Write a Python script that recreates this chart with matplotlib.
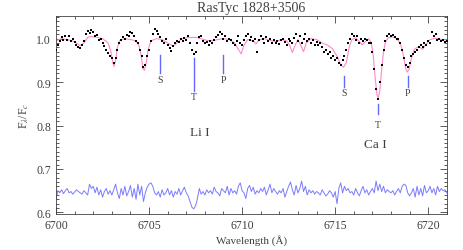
import matplotlib
matplotlib.use('Agg')
import matplotlib.pyplot as plt
import numpy as np
from matplotlib.ticker import MultipleLocator

# observed spectrum (dots), sampled every 0.1 A from 6700.0
obs_start = 6700.0
obs_step = 0.1
obs_flux = [
    0.975, 0.985, 0.995, 1.003, 0.997, 1.005, 0.998, 1.006, 0.995, 1.000,
    0.993, 0.985, 0.980, 0.978, 0.985, 0.995, 1.010, 1.018, 1.012, 1.020,
    1.015, 1.005, 1.008, 0.998, 1.000, 0.990, 0.982, 0.975, 0.968, 0.960,
    0.955, 0.945, 0.955, 0.975, 0.990, 0.998, 1.003, 1.000, 1.008, 1.005,
    1.015, 1.012, 1.005, 0.995, 0.990, 0.975, 0.960, 0.935, 0.940, 0.960,
    0.975, 0.995, 1.010, 1.022, 1.018, 1.010, 1.003, 0.995, 0.990, 1.000,
    0.985, 0.978, 0.972, 0.983, 0.990, 0.995, 0.992, 1.000, 0.995, 1.002,
    0.998, 1.005, 0.990, 0.975, 0.965, 0.970, 0.990, 1.003, 1.005, 0.995,
    0.990, 0.993, 0.985, 0.995, 0.990, 0.998, 1.003, 1.008, 1.015, 1.010,
    1.000, 1.005, 0.995, 1.000, 0.997, 0.990, 0.985, 0.995, 1.005, 0.990,
    0.985, 0.998, 1.005, 1.010, 0.998, 1.003, 0.995, 1.000, 0.970, 0.998,
    1.005, 1.000, 0.990, 1.003, 0.995, 1.000, 0.990, 0.997, 0.990, 0.995,
    0.988, 0.998, 1.000, 0.993, 0.985, 1.000, 0.995, 0.990, 1.002, 1.010,
    0.995, 1.005, 0.990, 1.000, 1.010, 0.995, 1.000, 0.990, 0.997, 0.985,
    0.992, 0.985, 0.990, 0.980, 0.970, 0.975, 0.965, 0.970, 0.955, 0.960,
    0.950, 0.955, 0.945, 0.940, 0.950, 0.960, 0.975, 0.990, 1.000, 1.010,
    1.005, 0.998, 1.005, 0.990, 1.000, 0.995, 1.000, 0.998, 0.990, 0.990,
    0.970, 0.930, 0.885, 0.860, 0.900, 0.940, 0.975, 0.995, 1.005, 1.010,
    1.005, 1.008, 1.003, 1.000, 1.000, 0.990, 0.975, 0.955, 0.940, 0.935,
    0.945, 0.960, 0.965, 0.970, 0.975, 0.980, 0.985, 0.980, 0.990, 0.985,
    0.995, 0.990, 1.015, 1.005, 1.010, 0.998, 1.000, 0.995, 0.997, 0.993,
    0.995,
]

# synthetic (pink) spectrum
model_wave = [
    6700.0, 6700.3, 6700.6, 6700.9, 6701.1, 6701.3, 6701.5, 6701.7, 6701.9, 6702.2,
    6702.5, 6702.8, 6702.95, 6703.05, 6703.12, 6703.2, 6703.3, 6703.45, 6703.7, 6704.0,
    6704.3, 6704.45, 6704.58, 6704.68, 6704.75, 6704.85, 6704.95, 6705.1, 6705.4, 6705.7,
    6706.0, 6706.2, 6706.3, 6706.45, 6706.7, 6707.0, 6707.5, 6707.8, 6708.1, 6708.4,
    6708.7, 6709.0, 6709.3, 6709.6, 6709.8, 6709.95, 6710.1, 6710.3, 6710.6, 6710.75,
    6710.9, 6711.2, 6711.5, 6711.8, 6712.1, 6712.4, 6712.55, 6712.7, 6712.85, 6713.0,
    6713.15, 6713.3, 6713.45, 6713.7, 6714.0, 6714.3, 6714.6, 6714.85, 6715.1, 6715.3,
    6715.45, 6715.6, 6715.75, 6715.9, 6716.1, 6716.3, 6716.45, 6716.6, 6716.8, 6716.95,
    6717.05, 6717.15, 6717.25, 6717.32, 6717.4, 6717.5, 6717.6, 6717.7, 6717.85, 6718.1,
    6718.3, 6718.5, 6718.65, 6718.8, 6718.88, 6718.98, 6719.1, 6719.25, 6719.4, 6719.55,
    6719.7, 6719.85, 6720.1, 6720.4, 6720.7, 6721.0,
]
model_flux = [
    0.995, 1.000, 0.998, 0.995, 0.990, 0.984, 0.990, 1.003, 1.005, 1.003,
    1.000, 0.990, 0.970, 0.945, 0.936, 0.950, 0.980, 0.997, 1.000, 0.998,
    0.995, 0.985, 0.960, 0.930, 0.927, 0.945, 0.975, 0.995, 1.000, 0.998,
    0.990, 0.985, 0.983, 0.988, 0.998, 1.002, 1.003, 1.000, 0.996, 0.995,
    0.998, 1.000, 0.998, 0.990, 0.975, 0.965, 0.985, 0.998, 0.995, 0.988,
    0.997, 1.000, 0.996, 0.993, 0.998, 0.995, 0.985, 0.968, 0.985, 0.998,
    0.985, 0.970, 0.990, 1.000, 0.998, 0.990, 0.985, 0.977, 0.960, 0.940,
    0.934, 0.945, 0.980, 0.998, 1.002, 0.993, 0.986, 0.992, 1.000, 0.990,
    0.960, 0.910, 0.870, 0.864, 0.880, 0.930, 0.970, 0.992, 1.002, 1.004,
    1.000, 0.990, 0.965, 0.930, 0.923, 0.930, 0.955, 0.975, 0.980, 0.980,
    0.975, 0.985, 0.998, 1.001, 0.998, 0.997,
]

# difference / offset spectrum (blue), sampled every 0.1 A
diff_flux = [
    0.630, 0.650, 0.645, 0.652, 0.643, 0.650, 0.655, 0.645, 0.648, 0.642,
    0.647, 0.652, 0.648, 0.645, 0.642, 0.650, 0.645, 0.640, 0.665, 0.655,
    0.660, 0.645, 0.658, 0.640, 0.652, 0.635, 0.648, 0.655, 0.642, 0.650,
    0.640, 0.652, 0.665, 0.645, 0.632, 0.655, 0.640, 0.660, 0.638, 0.648,
    0.662, 0.635, 0.655, 0.630, 0.665, 0.640, 0.660, 0.625, 0.645, 0.658,
    0.665, 0.668, 0.660, 0.645, 0.640, 0.648, 0.635, 0.652, 0.640, 0.645,
    0.655, 0.640, 0.650, 0.635, 0.648, 0.642, 0.655, 0.640, 0.650, 0.658,
    0.645, 0.638, 0.625, 0.612, 0.608, 0.615, 0.632, 0.655, 0.642, 0.648,
    0.640, 0.652, 0.645, 0.650, 0.642, 0.658, 0.648, 0.645, 0.638, 0.655,
    0.650, 0.645, 0.660, 0.640, 0.655, 0.645, 0.650, 0.642, 0.660, 0.668,
    0.650, 0.645, 0.632, 0.655, 0.662, 0.648, 0.658, 0.642, 0.650, 0.645,
    0.655, 0.648, 0.658, 0.640, 0.652, 0.665, 0.645, 0.655, 0.648, 0.642,
    0.650, 0.645, 0.655, 0.635, 0.648, 0.660, 0.670, 0.652, 0.640, 0.662,
    0.645, 0.655, 0.672, 0.648, 0.660, 0.640, 0.652, 0.645, 0.650, 0.642,
    0.648, 0.645, 0.640, 0.652, 0.645, 0.638, 0.642, 0.650, 0.645, 0.635,
    0.648, 0.620, 0.655, 0.668, 0.645, 0.660, 0.650, 0.655, 0.645, 0.648,
    0.640, 0.655, 0.645, 0.638, 0.650, 0.660, 0.645, 0.652, 0.640, 0.648,
    0.655, 0.645, 0.672, 0.650, 0.665, 0.648, 0.660, 0.645, 0.652, 0.648,
    0.645, 0.650, 0.640, 0.648, 0.655, 0.645, 0.660, 0.665, 0.662, 0.645,
    0.638, 0.645, 0.655, 0.635, 0.660, 0.640, 0.655, 0.638, 0.662, 0.645,
    0.650, 0.660, 0.645, 0.655, 0.640, 0.660, 0.648, 0.655, 0.650, 0.652,
    0.645,
]

# line identifications: wavelength, tick bottom, tick top, label, label y
li_wave = [6705.6, 6707.4, 6709.0]
li_lo = [0.922, 0.880, 0.922]
li_hi = [0.962, 0.955, 0.962]
li_lab = ['S', 'T', 'P']
li_laby = [0.905, 0.866, 0.905]

ca_wave = [6715.5, 6717.3, 6718.9]
ca_lo = [0.889, 0.826, 0.889]
ca_hi = [0.914, 0.849, 0.914]
ca_lab = ['S', 'T', 'P']
ca_laby = [0.875, 0.803, 0.875]

obs_wave = obs_start + obs_step * np.arange(len(obs_flux))
diff_wave = obs_start + obs_step * np.arange(len(diff_flux))

plt.rcParams['font.family'] = ['Liberation Serif', 'DejaVu Serif']
plt.rcParams['mathtext.fontset'] = 'stix'
grey = '#404040'

fig = plt.figure(figsize=(4.63, 2.51), dpi=100)
ax = fig.add_axes([0.121, 0.143, 0.844, 0.789])

ax.plot(model_wave, model_flux, color='#ff88cc', lw=0.8, zorder=2)
ax.plot(obs_wave, obs_flux, 's', color='black', ms=1.5, mew=0, zorder=3)
ax.plot(diff_wave, diff_flux, color='#7b7bff', lw=0.7, zorder=2)

for w, lo, hi, lab, ly in zip(li_wave + ca_wave, li_lo + ca_lo, li_hi + ca_hi,
                              li_lab + ca_lab, li_laby + ca_laby):
    ax.plot([w, w], [lo, hi], color='#6666ff', lw=1.0)
    ax.text(w, ly, lab, ha='center', va='center', fontsize=7, color=grey)

ax.text(6707.74, 0.785, 'Li I', ha='center', va='center', fontsize=9.5, color=grey)
ax.text(6717.15, 0.757, 'Ca I', ha='center', va='center', fontsize=9.5, color=grey)

ax.set_xlim(6700, 6721)
ax.set_ylim(0.596, 1.052)
ax.xaxis.set_major_locator(MultipleLocator(5))
ax.xaxis.set_minor_locator(MultipleLocator(1))
ax.yaxis.set_major_locator(MultipleLocator(0.1))
ax.yaxis.set_minor_locator(MultipleLocator(0.01))
ax.tick_params(which='both', direction='in', top=True, right=True, colors=grey,
               labelsize=8.5, width=0.6)
ax.tick_params(which='major', length=5)
ax.tick_params(which='minor', length=2.5)
ax.yaxis.set_major_formatter(matplotlib.ticker.FormatStrFormatter('%.1f'))
for s in ax.spines.values():
    s.set_color(grey)
    s.set_linewidth(0.6)

ax.set_title('RasTyc 1828+3506', fontsize=10, color=grey, pad=4)
ax.set_xlabel('Wavelength (Å)', fontsize=8, color=grey, labelpad=2)
ax.set_ylabel(r'F$_\lambda$/F$_c$', fontsize=8.5, color=grey, labelpad=4)

fig.savefig('out.png', dpi=100)
